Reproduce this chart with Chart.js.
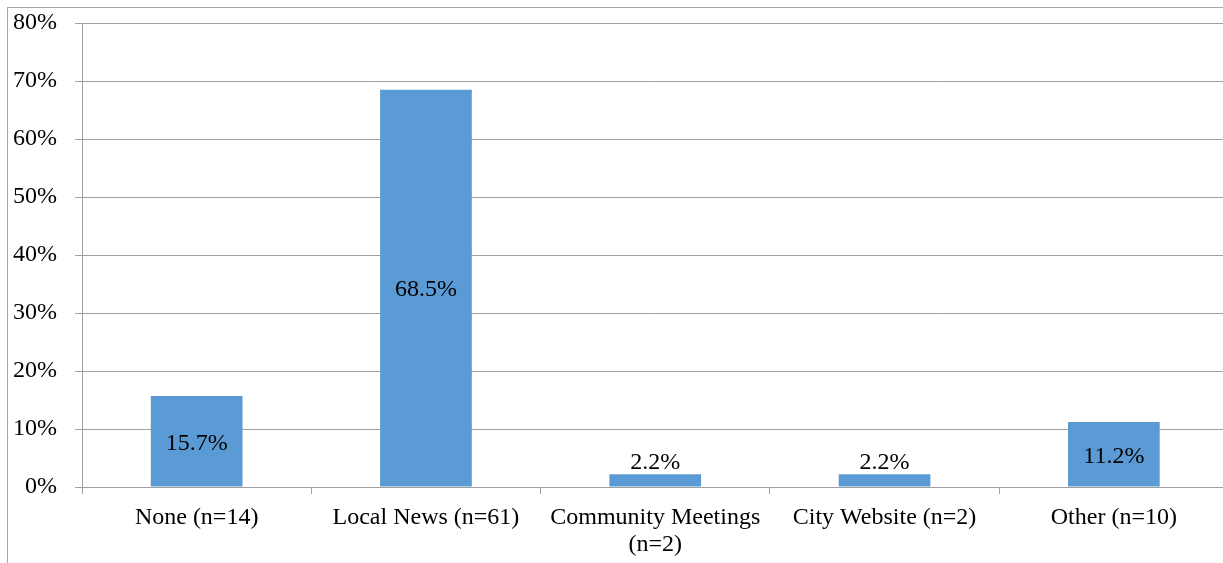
<!DOCTYPE html>
<html>
<head>
<meta charset="utf-8">
<script src="https://cdn.jsdelivr.net/npm/chart.js@4.4.1/dist/chart.umd.min.js"></script>
<style>
  html, body { margin: 0; padding: 0; overflow: hidden; background: #fff; width: 1223px; height: 563px; }
  #frame { position: absolute; left: 7px; top: 7px; width: 3000px; height: 3000px;
           border-left: 1px solid #a6a6a6; border-top: 1px solid #a6a6a6; }
  #c { position: absolute; left: 0; top: 0; }
</style>
</head>
<body>
<div id="frame"></div>
<canvas id="c" width="1240" height="563"></canvas>
<script>
const categories = [["None (n=14)"], ["Local News (n=61)"], ["Community Meetings", "(n=2)"], ["City Website (n=2)"], ["Other (n=10)"]];
const values = [15.7, 68.5, 2.2, 2.2, 11.2];
const valueLabels = ["15.7%", "68.5%", "2.2%", "2.2%", "11.2%"];
const yTicks = [0, 10, 20, 30, 40, 50, 60, 70, 80];

const FONT = "'Liberation Serif', 'Times New Roman', serif";

const dataLabelPlugin = {
  id: 'dataLabels',
  afterDatasetsDraw(chart) {
    const ctx = chart.ctx;
    const meta = chart.getDatasetMeta(0);
    ctx.save();
    ctx.font = "24px " + FONT;
    ctx.fillStyle = '#000';
    ctx.textAlign = 'center';
    ctx.textBaseline = 'middle';
    meta.data.forEach((bar, i) => {
      const h = bar.base - bar.y;
      let y;
      if (h > 40) {
        y = (bar.y + bar.base) / 2 + 2;
      } else {
        y = bar.y - 12;
      }
      ctx.fillText(valueLabels[i], bar.x, y);
    });
    ctx.restore();
  }
};

new Chart(document.getElementById('c'), {
  type: 'bar',
  data: {
    labels: categories,
    datasets: [{
      data: values,
      backgroundColor: '#5B9BD5',
      borderColor: '#5B9BD5',
      borderWidth: 0,
      categoryPercentage: 1.0,
      barPercentage: 0.4
    }]
  },
  options: {
    responsive: false,
    devicePixelRatio: 1,
    animation: false,
    layout: { padding: { left: 0, right: 11.5, top: 23, bottom: 0 } },
    plugins: { legend: { display: false }, tooltip: { enabled: false } },
    scales: {
      x: {
        offset: true,
        afterFit(scale) { scale.height = 76; scale.paddingLeft = 0; scale.paddingRight = 0; },
        grid: { offset: true, drawOnChartArea: false, drawTicks: true, tickLength: 7, color: '#a0a0a0' },
        border: { color: '#a0a0a0' },
        ticks: { font: { family: FONT, size: 24, lineHeight: 1.12 }, color: '#000', padding: 10, maxRotation: 0, autoSkip: false }
      },
      y: {
        min: 0, max: 80,
        afterFit(scale) { scale.width = 82; scale.paddingTop = 0; scale.paddingBottom = 0; },
        afterBuildTicks(scale) { scale.ticks = yTicks.map(v => ({ value: v })); },
        grid: { color: '#a0a0a0', tickLength: 7 },
        border: { color: '#a0a0a0' },
        ticks: {
          font: { family: FONT, size: 24 }, color: '#000', padding: 18,
          callback: v => v + '%'
        }
      }
    }
  },
  plugins: [dataLabelPlugin]
});
</script>
</body>
</html>
